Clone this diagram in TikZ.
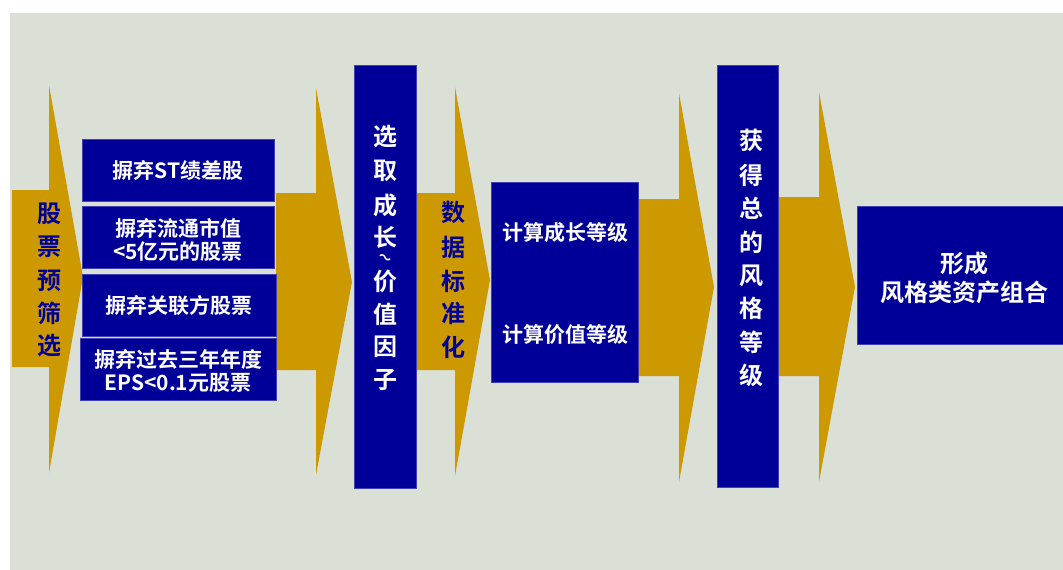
\documentclass[tikz,border=0pt]{standalone}
\usepackage{fontspec}
\usepackage{graphicx}
\newfontfamily\cjkb{Noto Sans CJK SC Bold}
\definecolor{bgc}{RGB}{219,224,214}
\definecolor{gold}{RGB}{204,153,0}
\definecolor{navy}{RGB}{0,0,153}
\tikzset{
  goldarrow/.style={fill=gold, draw=none},
  bluebox/.style={fill=navy, draw=navy!75!white, line width=0.6pt, inner sep=0pt, anchor=north west},
  wtext/.style={text=white, font=\cjkb\fontsize{21}{23}\selectfont, align=center, inner sep=0pt},
  vtext/.style={font=\cjkb\fontsize{24}{24}\selectfont, inner sep=0pt},
  bigtext/.style={text=white, font=\cjkb\fontsize{24}{29}\selectfont, align=center, inner sep=0pt},
}
\begin{document}
\begin{tikzpicture}[x=1pt,y=-1pt]
\useasboundingbox (0,0) rectangle (1063,570);
\fill[white] (0,0) rectangle (1063,570);
\fill[bgc] (10,13) rectangle (1063,570);
% gold arrows
\fill[goldarrow] (12,190) -- (49,190) -- (49,85) -- (83,277) -- (49,473) -- (49,367) -- (12,367) -- cycle;
\fill[goldarrow] (276,193) -- (316,193) -- (316,88) -- (352,282) -- (316,475) -- (316,370) -- (276,370) -- cycle;
\fill[goldarrow] (416,193) -- (455,193) -- (455,87) -- (490,280) -- (455,476) -- (455,370) -- (416,370) -- cycle;
\fill[goldarrow] (638,199) -- (679,199) -- (679,93) -- (714,287) -- (679,482) -- (679,376) -- (638,376) -- cycle;
\fill[goldarrow] (778,197) -- (819,197) -- (819,92) -- (855,287) -- (819,482) -- (819,376) -- (778,376) -- cycle;
% first arrow text
\foreach \c/\y [count=\i] in {股/214,票/247,预/281,筛/313,选/346}
  \node[vtext, text=navy] (sa\i) at (49,\y) {\c};
% filter boxes
\node[bluebox, minimum width=192, minimum height=62] (b1) at (82,139) {};
\node[wtext] (t1) at (178,170) {摒弃ST绩差股};
\node[bluebox, minimum width=192, minimum height=62] (b2) at (82,206) {};
\node[wtext] (t2) at (178,240) {摒弃流通市值\\<5亿元的股票};
\node[bluebox, minimum width=194, minimum height=62] (b3) at (82,274) {};
\node[wtext] (t3) at (179,305) {摒弃关联方股票};
\node[bluebox, minimum width=196, minimum height=62] (b4) at (80,338) {};
\node[wtext] (t4) at (178,371) {摒弃过去三年年度\\EPS<0.1元股票};
% tall box 1
\node[bluebox, minimum width=62, minimum height=423] (tb1) at (354,65) {};
\foreach \c/\y [count=\i] in {选/137,取/171,成/205,长/237,价/281,值/314,因/347,子/380}
  \node[vtext, text=white] (va\i) at (385,\y) {\c};
\node[inner sep=0pt, text=white] (vtilde) at (385,259) {\rotatebox{-25}{\cjkb\fontsize{13}{13}\selectfont ～}};
% second arrow text
\foreach \c/\y [count=\i] in {数/212,据/247,标/281,准/313,化/347}
  \node[vtext, text=navy] (sb\i) at (453,\y) {\c};
% calc box
\node[bluebox, minimum width=147, minimum height=200] (cb) at (491,182) {};
\node[wtext] (c1) at (565,233) {计算成长等级};
\node[wtext] (c2) at (565,335) {计算价值等级};
% tall box 2
\node[bluebox, minimum width=61, minimum height=422] (tb2) at (717,65) {};
\foreach \c/\y [count=\i] in {获/140,得/175,总/208,的/242,风/276,格/308,等/342,级/375}
  \node[vtext, text=white] (vb\i) at (751,\y) {\c};
% final box
\node[bluebox, minimum width=215, minimum height=138] (fin) at (857,206) {};
\node[bigtext] (ft) at (964,278) {形成\\风格类资产组合};
\end{tikzpicture}
\end{document}
